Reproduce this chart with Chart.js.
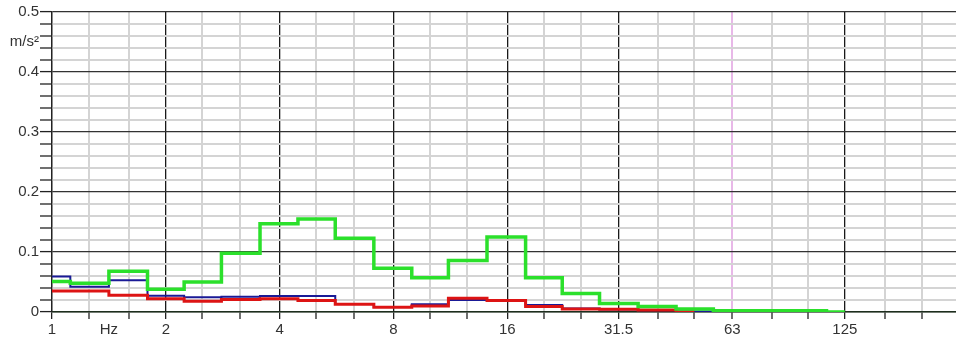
<!DOCTYPE html>
<html>
<head>
<meta charset="utf-8">
<script src="https://cdn.jsdelivr.net/npm/chart.js@4"></script>
<style>
  body { margin: 0; background: #fff; }
  canvas { display: block; }
</style>
</head>
<body>
<canvas id="spectrumChart" width="956" height="343"></canvas>
<script>
// 1/3 octave band centre frequencies (Hz)
const bands = [1, 1.25, 1.6, 2, 2.5, 3.15, 4, 5, 6.3, 8, 10, 12.5, 16, 20, 25, 31.5, 40, 50, 63, 80, 100, 125, 160, 200];

// band levels in m/s²
const greenValues = [0.051, 0.048, 0.068, 0.038, 0.050, 0.098, 0.147, 0.155, 0.123, 0.073, 0.057, 0.086, 0.125, 0.057, 0.031, 0.014, 0.009, 0.005, 0.002, 0.002, 0.002, 0, null, null];
const redValues = [0.035, 0.035, 0.028, 0.022, 0.018, 0.021, 0.022, 0.019, 0.013, 0.008, 0.010, 0.023, 0.019, 0.009, 0.005, 0.0045, 0.0033, 0, null, null, null, null, null, null];
const blueValues = [0.059, 0.042, 0.053, 0.027, 0.0245, 0.0255, 0.0265, 0.0265, 0.0135, 0.0085, 0.0128, 0.020, 0.020, 0.0117, 0.006, 0.004, 0.003, 0.001, 0, null, null, null, null, null];

// axis ticks
const xTicks = [1, 1.25, 1.414, 1.6, 2, 2.5, 3.15, 4, 5, 6.3, 8, 10, 12.5, 16, 20, 25, 31.5, 40, 50, 63, 80, 100, 125, 160, 200];
const xLabels = { 1: '1', 1.414: 'Hz', 2: '2', 4: '4', 8: '8', 16: '16', 31.5: '31.5', 63: '63', 125: '125' };
const xMajor = [1, 2, 4, 8, 16, 31.5, 125];
const yTicks = [];
for (let i = 0; i <= 25; i++) yTicks.push(Math.round(i * 2) / 100);
yTicks.push(0.45);

const isYMajor = v => Math.abs(v * 10 - Math.round(v * 10)) < 1e-6;

function series(vals) {
    return bands.map((f, i) => ({ x: f, y: vals[i] }));
}

const ctx = document.getElementById('spectrumChart').getContext('2d');
new Chart(ctx, {
    type: 'line',
    data: {
        datasets: [
            { data: series(greenValues), borderColor: '#2be02b', borderWidth: 3.5 },
            { data: series(redValues), borderColor: '#dd1414', borderWidth: 3 },
            { data: series(blueValues), borderColor: '#1a1a96', borderWidth: 2 }
        ]
    },
    options: {
        responsive: false,
        animation: false,
        layout: { padding: { top: 12, right: 0, left: 0, bottom: 0 } },
        elements: {
            line: { stepped: 'middle', fill: false },
            point: { radius: 0 }
        },
        plugins: { legend: { display: false }, tooltip: { enabled: false } },
        scales: {
            x: {
                type: 'logarithmic',
                min: 1,
                max: 246,
                afterBuildTicks: s => { s.ticks = xTicks.map(v => ({ value: v })); },
                afterFit: s => { s.height = 31; },
                border: { color: '#1d2e1d', width: 1.5 },
                grid: {
                    color: c => {
                        const v = c.tick.value;
                        if (v === 1.414) return 'rgba(0,0,0,0)';
                        if (v === 63) return '#e8b8e8';
                        return xMajor.includes(v) ? '#1a1a1a' : '#d4d4d4';
                    },
                    lineWidth: c => xMajor.includes(c.tick.value) ? 1.3 : 2,
                    tickColor: c => c.tick.value === 1.414 ? 'rgba(0,0,0,0)' : '#222',
                    tickLength: 7,
                    tickWidth: 1.3
                },
                ticks: {
                    autoSkip: false,
                    maxRotation: 0,
                    padding: 2,
                    color: '#333',
                    font: { family: 'Liberation Sans, Arial, sans-serif', size: 15 },
                    callback: v => xLabels[v] || ''
                }
            },
            y: {
                type: 'linear',
                min: 0,
                max: 0.5,
                afterBuildTicks: s => { s.ticks = yTicks.map(v => ({ value: v })); },
                afterFit: s => { s.width = 52; },
                border: { color: '#222', width: 1.3 },
                grid: {
                    color: c => {
                        const v = c.tick.value;
                        if (v === 0.45) return 'rgba(0,0,0,0)';
                        return isYMajor(v) ? '#333' : '#d4d4d4';
                    },
                    lineWidth: c => isYMajor(c.tick.value) ? 1.2 : 2,
                    tickColor: c => c.tick.value === 0.45 ? 'rgba(0,0,0,0)' : '#222',
                    tickLength: 12,
                    tickWidth: 1.3
                },
                ticks: {
                    autoSkip: false,
                    padding: 1,
                    color: '#333',
                    font: { family: 'Liberation Sans, Arial, sans-serif', size: 15 },
                    callback: v => {
                        if (v === 0.45) return 'm/s²';
                        if (v === 0) return '0';
                        return isYMajor(v) ? String(Math.round(v * 10) / 10) : '';
                    }
                }
            }
        }
    }
});
</script>
</body>
</html>
